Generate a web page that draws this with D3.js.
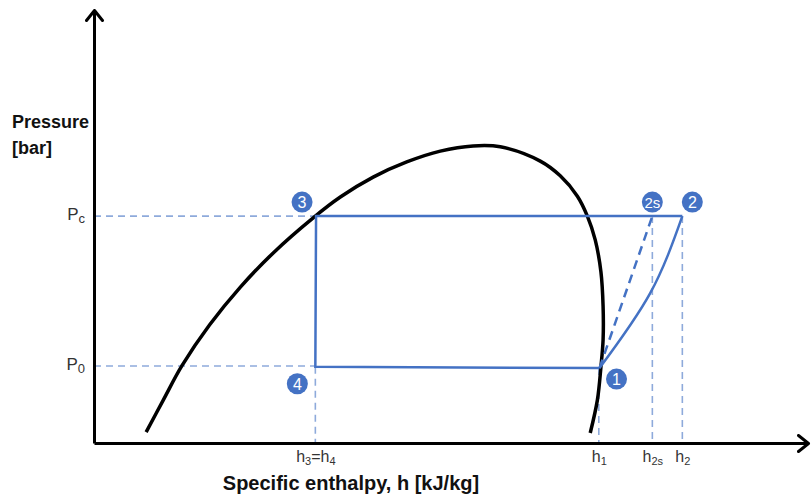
<!DOCTYPE html>
<html><head><meta charset="utf-8">
<script src="https://cdn.jsdelivr.net/npm/d3@7"></script>
<style>body{margin:0;background:#fff}svg{display:block}</style>
</head><body>
<svg id="c" width="811" height="497"></svg>
<script>
// ---- data (arbitrary schematic units: h 0..100, p 0..100) ----
const domeH = [7.3, 9.7, 12.3, 16.2, 20.5, 25.1, 30.7, 34.5, 39.1, 43.8, 48.5, 53.1, 56.9, 62.5, 65.3, 67.7, 69.1, 70.2, 71.0, 71.3, 71.3, 71.0, 70.5, 69.5];
const domeP = [2.5, 9.9, 17.8, 27.3, 36.0, 43.9, 52.0, 56.8, 61.4, 64.9, 67.4, 68.6, 68.4, 65.1, 61.7, 57.0, 52.4, 46.9, 39.5, 31.6, 23.8, 17.6, 9.9, 2.3];
const stateNames = ["1", "2s", "2", "3", "4"];
const stateH = [70.8, 78.2, 82.4, 31.1, 31.0];
const stateP = [17.3, 52.4, 52.4, 52.4, 17.6];
const compMidH = 77.9, compMidP = 34.6;   // mid point of real compression 1->2
const xTickValues = [31.0, 70.7, 78.2, 82.4];
const xTickLabels = ["h_3=h_4", "h_1", "h_2s", "h_2"];
const yTickValues = [52.4, 17.8];
const yTickLabels = ["P_c", "P_0"];

const svg = d3.select("#c");
const x = d3.scaleLinear().domain([0, 100]).range([94, 808]);
const y = d3.scaleLinear().domain([0, 100]).range([443, 10]);
const blue = "#4472c4", guide = "#8eaadb";
const font = "Liberation Sans, Arial, sans-serif";

function subText(sel, s, mainSize, subSize) {
  sel.text(null);
  const parts = s.split(/(_\w+)/).filter(d => d.length);
  let shifted = false;
  parts.forEach((p, i) => {
    if (p[0] === "_") {
      sel.append("tspan").attr("font-size", subSize).attr("dy", 3).text(p.slice(1));
      shifted = true;
    } else {
      const t = sel.append("tspan").attr("font-size", mainSize).text(p);
      if (shifted) t.attr("dy", -3);
      shifted = false;
    }
  });
}

// arrow marker
const defs = svg.append("defs");
defs.append("marker").attr("id", "arr").attr("viewBox", "-12 -10 14 20")
  .attr("refX", 0).attr("refY", 0).attr("markerWidth", 14).attr("markerHeight", 20)
  .attr("markerUnits", "userSpaceOnUse").attr("orient", "auto")
  .append("path").attr("d", "M-10,-8 L0,0 L-10,8").attr("fill", "none")
  .attr("stroke", "#000").attr("stroke-width", 3).attr("stroke-linecap", "round").attr("stroke-linejoin", "round");

// dashed guides
const g = svg.append("g").attr("stroke", guide).attr("stroke-width", 1.6).attr("stroke-dasharray", "7,5").attr("fill", "none");
g.append("line").attr("x1", x(0)).attr("x2", x(stateH[3])).attr("y1", y(yTickValues[0])).attr("y2", y(yTickValues[0]));
g.append("line").attr("x1", x(0)).attr("x2", x(stateH[4])).attr("y1", y(yTickValues[1])).attr("y2", y(yTickValues[1]));
[[xTickValues[0], stateP[4]], [xTickValues[1], stateP[0]], [xTickValues[2], stateP[1]], [xTickValues[3], stateP[2]]].forEach(([h, p]) => {
  g.append("line").attr("x1", x(h)).attr("x2", x(h)).attr("y1", y(p)).attr("y2", y(0));
});

// saturation dome
svg.append("path").datum(domeH.map((h, i) => [h, domeP[i]]))
  .attr("d", d3.line().x(d => x(d[0])).y(d => y(d[1])).curve(d3.curveCatmullRom.alpha(0.5)))
  .attr("fill", "none").attr("stroke", "#000").attr("stroke-width", 3.5);

// cycle
const cyc = svg.append("g").attr("fill", "none").attr("stroke", blue).attr("stroke-width", 2.5);
cyc.append("path").attr("d", d3.line()([
  [x(stateH[2]), y(stateP[2])], [x(stateH[3]), y(stateP[3])], [x(stateH[4]), y(stateP[4])], [x(stateH[0]), y(stateP[0])]
]));
cyc.append("path").datum([[stateH[0], stateP[0]], [compMidH, compMidP], [stateH[2], stateP[2]]])
  .attr("d", d3.line().x(d => x(d[0])).y(d => y(d[1])).curve(d3.curveNatural));
cyc.append("line").attr("x1", x(stateH[0])).attr("y1", y(stateP[0])).attr("x2", x(stateH[1])).attr("y2", y(stateP[1]))
  .attr("stroke-dasharray", "9,6");

// axes
const xAxis = svg.append("g").attr("transform", `translate(0,${y(0)})`)
  .call(d3.axisBottom(x).tickValues(xTickValues).tickSize(0).tickSizeOuter(0).tickPadding(10));
xAxis.select(".domain").attr("stroke", "#000").attr("stroke-width", 3).attr("marker-end", "url(#arr)");
xAxis.selectAll(".tick text").each(function (d, i) {
  d3.select(this).attr("font-family", font).attr("fill", "#333").attr("dy", "0.85em");
  subText(d3.select(this), xTickLabels[i], 16, 11);
});

const yAxis = svg.append("g").attr("transform", `translate(${x(0)},0)`)
  .call(d3.axisLeft(y).tickValues(yTickValues).tickSize(0).tickSizeOuter(0).tickPadding(9));
yAxis.select(".domain").attr("stroke", "#000").attr("stroke-width", 3).attr("marker-end", "url(#arr)");
yAxis.selectAll(".tick text").each(function (d, i) {
  d3.select(this).attr("font-family", font).attr("fill", "#333").attr("dy", "0.35em");
  subText(d3.select(this), yTickLabels[i], 17, 13);
});

// axis titles
svg.append("text").attr("x", 12).attr("y", 128).attr("font-family", font)
  .attr("font-weight", "bold").attr("font-size", 18).attr("fill", "#111").text("Pressure");
svg.append("text").attr("x", 12).attr("y", 154).attr("font-family", font)
  .attr("font-weight", "bold").attr("font-size", 18).attr("fill", "#111").text("[bar]");
svg.append("text").attr("x", 351).attr("y", 490).attr("text-anchor", "middle").attr("font-family", font)
  .attr("font-weight", "bold").attr("font-size", 20).attr("fill", "#111").text("Specific enthalpy, h [kJ/kg]");

// state markers
const offs = { "1": [17, -11], "2s": [0, 14], "2": [10, 14], "3": [-14, 14], "4": [-18, -17] };
const st = svg.append("g").selectAll("g").data(stateNames).join("g")
  .attr("transform", (d, i) => `translate(${x(stateH[i]) + offs[d][0]},${y(stateP[i]) - offs[d][1]})`);
st.append("circle").attr("r", 10.5).attr("fill", blue);
st.append("text").attr("text-anchor", "middle").attr("dy", "0.36em").attr("fill", "#fff")
  .attr("font-family", font).attr("font-size", d => d.length > 1 ? 15 : 16).text(d => d);
</script>
</body></html>
